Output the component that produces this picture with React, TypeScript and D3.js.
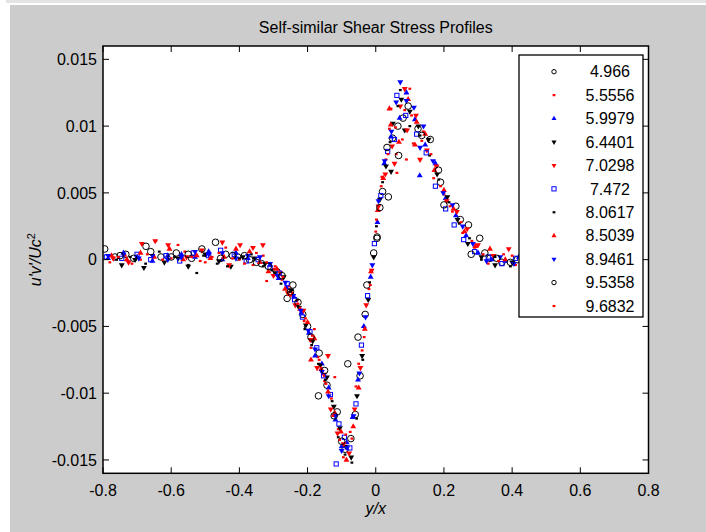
import React from 'react';
import * as d3 from 'd3';

const W = 706;
const H = 532;

const titleText = 'Self-similar Shear Stress Profiles';
const xTicks = [-0.8, -0.6, -0.4, -0.2, 0, 0.2, 0.4, 0.6, 0.8];
const xTickLabels = ['-0.8', '-0.6', '-0.4', '-0.2', '0', '0.2', '0.4', '0.6', '0.8'];
const yTicks = [0.015, 0.01, 0.005, 0, -0.005, -0.01, -0.015];
const yTickLabels = ['0.015', '0.01', '0.005', '0', '-0.005', '-0.01', '-0.015'];
const legendLabels = ['4.966', '5.5556', '5.9979', '6.4401', '7.0298', '7.472', '8.0617', '8.5039', '8.9461', '9.5358', '9.6832'];

type P = [number, number];

const s4966: P[] = [[-0.795,0.0008],[-0.765,0.0002],[-0.733,0.0004],[-0.674,0.0010],[-0.63,0.0002],[-0.585,0.0005],[-0.54,0.0001],[-0.47,0.0013],[-0.44,0.0004],[-0.405,0.0002],[-0.37,0.0000],[-0.335,-0.0003],[-0.29,-0.0009],[-0.26,-0.0029],[-0.243,-0.0019],[-0.214,-0.0041],[-0.2,-0.0050],[-0.166,-0.0070],[-0.143,-0.0094],[-0.113,-0.0114],[-0.09,-0.0142],[-0.06,-0.0116],[-0.046,-0.0087],[-0.031,-0.0041],[-0.006,0.0005],[0.0035,0.0016],[0.02,0.0051],[0.049,0.0091],[0.08,0.0106],[0.124,0.0098],[0.16,0.0090],[0.19,0.0058],[0.235,0.0040],[0.272,0.0026],[0.305,0.0016],[0.335,0.0001],[0.37,-0.0002],[0.415,0.0000]];
const s5556: P[] = [[-0.78,-0.0002],[-0.735,0.0003],[-0.69,0.0000],[-0.645,0.0014],[-0.6,0.0001],[-0.56,0.0006],[-0.515,-0.0001],[-0.48,0.0002],[-0.44,0.0009],[-0.4,0.0000],[-0.36,-0.0004],[-0.33,0.0003],[-0.32,-0.0016],[-0.3,-0.0007],[-0.275,-0.0015],[-0.255,-0.0020],[-0.232,-0.0031],[-0.21,-0.0046],[-0.19,-0.0066],[-0.18,-0.0052],[-0.17,-0.0073],[-0.15,-0.0091],[-0.13,-0.0104],[-0.12,-0.0088],[-0.11,-0.0127],[-0.095,-0.0148],[-0.075,-0.0129],[-0.058,-0.0095],[-0.04,-0.0068],[-0.02,-0.0022],[0.0,0.0021],[0.018,0.0062],[0.03,0.0075],[0.04,0.0098],[0.06,0.0079],[0.062,0.0065],[0.085,0.0112],[0.1,0.0128],[0.11,0.0087],[0.14,0.0096],[0.17,0.0061],[0.2,0.0049],[0.225,0.0036],[0.255,0.0020],[0.29,0.0009],[0.33,-0.0003],[0.375,0.0004],[0.41,-0.0004]];
const s5979: P[] = [[-0.785,0.0001],[-0.74,0.0005],[-0.7,0.0002],[-0.655,-0.0001],[-0.61,0.0003],[-0.57,0.0004],[-0.53,0.0002],[-0.49,0.0006],[-0.45,0.0000],[-0.41,0.0005],[-0.375,0.0001],[-0.34,-0.0002],[-0.31,-0.0004],[-0.285,-0.0014],[-0.262,-0.0021],[-0.24,-0.0028],[-0.218,-0.0040],[-0.196,-0.0055],[-0.178,-0.0072],[-0.158,-0.0078],[-0.138,-0.0096],[-0.118,-0.0120],[-0.1,-0.0140],[-0.085,-0.0137],[-0.068,-0.0118],[-0.052,-0.0090],[-0.035,-0.0050],[-0.015,-0.0013],[0.005,0.0028],[0.025,0.0072],[0.045,0.0092],[0.07,0.0106],[0.09,0.0125],[0.115,0.0105],[0.129,0.0063],[0.145,0.0086],[0.175,0.0072],[0.205,0.0046],[0.235,0.0033],[0.265,0.0018],[0.3,0.0005],[0.34,0.0000],[0.38,-0.0001],[0.42,0.0002]];
const s6440: P[] = [[-0.745,-0.0004],[-0.706,0.0000],[-0.68,-0.0006],[-0.62,-0.0002],[-0.58,0.0001],[-0.55,-0.0005],[-0.5,0.0004],[-0.46,-0.0001],[-0.425,-0.0005],[-0.39,0.0002],[-0.355,0.0001],[-0.325,-0.0003],[-0.295,-0.0010],[-0.27,-0.0013],[-0.248,-0.0023],[-0.225,-0.0036],[-0.205,-0.0049],[-0.185,-0.0061],[-0.163,-0.0079],[-0.143,-0.0088],[-0.123,-0.0110],[-0.105,-0.0126],[-0.088,-0.0140],[-0.072,-0.0148],[-0.055,-0.0102],[-0.04,-0.0072],[-0.022,-0.0030],[-0.006,0.0002],[0.012,0.0045],[0.03,0.0070],[0.045,0.0066],[0.05,0.0102],[0.075,0.0120],[0.085,0.0097],[0.1,0.0111],[0.125,0.0100],[0.155,0.0090],[0.18,0.0064],[0.21,0.0047],[0.24,0.0030],[0.27,0.0012],[0.31,0.0002],[0.35,-0.0004],[0.4,-0.0002]];
const s7030: P[] = [[-0.77,0.0001],[-0.725,-0.0002],[-0.686,0.0012],[-0.647,0.0014],[-0.609,0.0011],[-0.555,0.0002],[-0.51,0.0007],[-0.45,0.0013],[-0.43,-0.0004],[-0.398,0.0011],[-0.36,0.0009],[-0.331,0.0011],[-0.3,-0.0012],[-0.28,-0.0010],[-0.258,-0.0025],[-0.236,-0.0034],[-0.212,-0.0038],[-0.192,-0.0060],[-0.172,-0.0081],[-0.152,-0.0086],[-0.14,-0.0072],[-0.132,-0.0112],[-0.112,-0.0130],[-0.094,-0.0138],[-0.078,-0.0145],[-0.062,-0.0112],[-0.045,-0.0081],[-0.028,-0.0034],[-0.012,-0.0008],[0.008,0.0040],[0.028,0.0064],[0.048,0.0085],[0.055,0.0072],[0.072,0.0115],[0.085,0.0128],[0.092,0.0097],[0.118,0.0108],[0.13,0.0075],[0.15,0.0082],[0.178,0.0070],[0.208,0.0044],[0.238,0.0036],[0.268,0.0023],[0.3,0.0011],[0.345,0.0003],[0.39,0.0008]];
const s7472: P[] = [[-0.79,0.0002],[-0.745,0.0001],[-0.7,0.0004],[-0.66,0.0000],[-0.615,0.0003],[-0.575,-0.0001],[-0.535,0.0005],[-0.49,0.0003],[-0.455,0.0007],[-0.415,0.0004],[-0.38,-0.0001],[-0.345,0.0000],[-0.31,-0.0006],[-0.283,-0.0010],[-0.26,-0.0018],[-0.238,-0.0030],[-0.215,-0.0043],[-0.193,-0.0054],[-0.173,-0.0066],[-0.153,-0.0087],[-0.133,-0.0101],[-0.116,-0.0153],[-0.108,-0.0123],[-0.092,-0.0133],[-0.076,-0.0141],[-0.058,-0.0108],[-0.042,-0.0064],[-0.024,-0.0027],[-0.004,0.0012],[0.015,0.0048],[0.035,0.0081],[0.055,0.0090],[0.062,0.0123],[0.088,0.0108],[0.12,0.0094],[0.148,0.0080],[0.175,0.0055],[0.205,0.0038],[0.23,0.0026],[0.258,0.0015],[0.29,0.0006],[0.33,0.0002],[0.37,-0.0003],[0.41,0.0001]];
const s8062: P[] = [[-0.76,0.0000],[-0.72,0.0002],[-0.675,-0.0003],[-0.635,0.0006],[-0.59,0.0002],[-0.55,-0.0004],[-0.525,-0.0010],[-0.505,0.0003],[-0.465,-0.0003],[-0.435,-0.0005],[-0.4,0.0001],[-0.365,0.0004],[-0.33,-0.0005],[-0.305,-0.0008],[-0.278,-0.0018],[-0.252,-0.0024],[-0.23,-0.0030],[-0.208,-0.0052],[-0.188,-0.0064],[-0.168,-0.0078],[-0.148,-0.0090],[-0.128,-0.0106],[-0.11,-0.0133],[-0.09,-0.0146],[-0.07,-0.0152],[-0.056,-0.0119],[-0.038,-0.0075],[-0.018,-0.0017],[0.002,0.0025],[0.02,0.0058],[0.042,0.0088],[0.065,0.0115],[0.072,0.0127],[0.1,0.0100],[0.13,0.0093],[0.158,0.0078],[0.185,0.0060],[0.215,0.0043],[0.245,0.0027],[0.275,0.0016],[0.31,0.0000],[0.35,0.0002],[0.395,-0.0005]];
const s8504: P[] = [[-0.775,0.0003],[-0.73,0.0000],[-0.69,0.0005],[-0.65,0.0002],[-0.605,0.0008],[-0.565,0.0000],[-0.525,0.0003],[-0.485,0.0001],[-0.445,0.0002],[-0.41,0.0008],[-0.37,0.0006],[-0.34,-0.0002],[-0.315,-0.0009],[-0.29,-0.0007],[-0.266,-0.0022],[-0.244,-0.0026],[-0.222,-0.0037],[-0.2,-0.0047],[-0.19,-0.0075],[-0.18,-0.0059],[-0.16,-0.0082],[-0.14,-0.0099],[-0.12,-0.0115],[-0.102,-0.0129],[-0.086,-0.0150],[-0.066,-0.0125],[-0.05,-0.0096],[-0.032,-0.0052],[-0.014,-0.0009],[0.006,0.0037],[0.022,0.0061],[0.04,0.0113],[0.044,0.0101],[0.068,0.0088],[0.095,0.0120],[0.115,0.0086],[0.12,0.0103],[0.145,0.0094],[0.172,0.0067],[0.2,0.0052],[0.228,0.0038],[0.26,0.0021],[0.292,0.0010],[0.335,0.0008],[0.38,0.0000]];
const s8946: P[] = [[-0.785,0.0003],[-0.74,0.0004],[-0.695,0.0001],[-0.655,0.0003],[-0.61,0.0000],[-0.57,0.0002],[-0.53,0.0006],[-0.49,0.0004],[-0.45,0.0005],[-0.41,0.0001],[-0.375,0.0003],[-0.34,0.0002],[-0.31,-0.0003],[-0.288,-0.0012],[-0.265,-0.0017],[-0.242,-0.0027],[-0.22,-0.0038],[-0.198,-0.0053],[-0.178,-0.0067],[-0.158,-0.0084],[-0.138,-0.0102],[-0.118,-0.0117],[-0.1,-0.0143],[-0.084,-0.0141],[-0.065,-0.0117],[-0.048,-0.0085],[-0.03,-0.0043],[-0.01,-0.0004],[0.008,0.0044],[0.026,0.0074],[0.046,0.0096],[0.06,0.0118],[0.072,0.0133],[0.09,0.0119],[0.112,0.0114],[0.13,0.0084],[0.14,0.0100],[0.168,0.0074],[0.198,0.0050],[0.225,0.0041],[0.255,0.0025],[0.285,0.0012],[0.325,-0.0001],[0.365,0.0002],[0.405,-0.0003]];
const s9536: P[] = [[-0.75,0.0003],[-0.71,0.0001],[-0.66,0.0006],[-0.6,0.0002],[-0.55,0.0004],[-0.51,0.0008],[-0.455,0.0001],[-0.42,0.0003],[-0.385,0.0003],[-0.35,-0.0002],[-0.315,-0.0005],[-0.275,-0.0012],[-0.25,-0.0024],[-0.228,-0.0032],[-0.19,-0.0058],[-0.168,-0.0102],[-0.15,-0.0083],[-0.122,-0.0117],[-0.1,-0.0136],[-0.073,-0.0134],[-0.082,-0.0078],[-0.052,-0.0058],[-0.026,-0.0019],[0.004,0.0017],[0.012,0.0039],[0.033,0.0084],[0.037,0.0047],[0.065,0.0100],[0.067,0.0078],[0.095,0.0115],[0.135,0.0093],[0.184,0.0067],[0.2,0.0041],[0.248,0.0030],[0.28,0.0004],[0.32,0.0005],[0.355,0.0001],[0.395,-0.0002]];
const s9683: P[] = [[-0.755,0.0002],[-0.715,-0.0003],[-0.67,0.0004],[-0.625,0.0000],[-0.58,0.0011],[-0.54,0.0002],[-0.5,-0.0002],[-0.46,0.0005],[-0.42,0.0001],[-0.385,-0.0003],[-0.35,0.0005],[-0.32,-0.0002],[-0.295,-0.0005],[-0.272,-0.0013],[-0.25,-0.0027],[-0.228,-0.0033],[-0.206,-0.0044],[-0.186,-0.0057],[-0.166,-0.0075],[-0.146,-0.0093],[-0.126,-0.0117],[-0.106,-0.0135],[-0.088,-0.0131],[-0.07,-0.0134],[-0.05,-0.0078],[-0.034,-0.0058],[-0.016,-0.0019],[0.002,0.0030],[0.016,0.0055],[0.036,0.0079],[0.045,0.0113],[0.058,0.0099],[0.078,0.0090],[0.09,0.0075],[0.105,0.0108],[0.135,0.0089],[0.162,0.0079],[0.19,0.0055],[0.218,0.0040],[0.25,0.0028],[0.282,0.0014],[0.315,0.0004],[0.36,-0.0001],[0.4,0.0003]];

const seriesData: P[][] = [s4966, s5556, s5979, s6440, s7030, s7472, s8062, s8504, s8946, s9536, s9683];

type MType = 'circle' | 'dot' | 'triUp' | 'triDown' | 'square';
const markerTypes: MType[] = ['circle', 'dot', 'triUp', 'triDown', 'triDown', 'square', 'dot', 'triUp', 'triDown', 'circle', 'dot'];
const markerColors = ['#000000', '#ff0000', '#0000ff', '#000000', '#ff0000', '#0000ff', '#000000', '#ff0000', '#0000ff', '#000000', '#ff0000'];

const FONT = 'Liberation Sans, Arial, Helvetica, sans-serif';

const triPath = d3.symbol().type(d3.symbolTriangle).size(15)() as string;
const triPathSmall = d3.symbol().type(d3.symbolTriangle).size(11)() as string;

function Marker({ type, color, x, y, legend }: { type: MType; color: string; x: number; y: number; legend?: boolean }) {
  const tp = legend ? triPathSmall : triPath;
  switch (type) {
    case 'circle':
      return <circle cx={x} cy={y} r={legend ? 2.2 : 3.3} fill="none" stroke={color} strokeWidth={1} />;
    case 'dot':
      return <rect x={x - 1.4} y={y - 1.1} width={2.8} height={2.2} fill={color} />;
    case 'triUp':
      return <path d={tp} transform={`translate(${x},${y})`} fill={color} />;
    case 'triDown':
      return <path d={tp} transform={`translate(${x},${y}) rotate(180)`} fill={color} />;
    case 'square':
      return <rect x={x - 2.1} y={y - 2.1} width={4.2} height={4.2} fill="none" stroke={color} strokeWidth={1} />;
  }
  return null;
}

export default function App() {
  const left = 103, right = 648.5, top = 46, bottom = 473.3;
  const x = d3.scaleLinear().domain([-0.8, 0.8]).range([left, right]);
  const y = d3.scaleLinear().domain([-0.016, 0.016]).range([bottom, top]);
  const tl = 6;

  const legX = 519, legY = 55, legW = 124, legH = 262;
  const rowY = d3.scaleLinear().domain([0, legendLabels.length - 1]).range([legY + 16.7, legY + 251]);

  return (
    <svg width={W} height={H} style={{ position: 'absolute', left: 0, top: 0 }} fontFamily={FONT}>
      <rect x={0} y={0} width={W} height={H} fill="#ffffff" />
      <rect x={6} y={0} width={W - 6} height={3} fill="#e4e4e4" />
      <rect x={10} y={5} width={W - 10} height={H - 5} fill="#cccccc" />
      <text x={(left + right) / 2} y={33} textAnchor="middle" fontSize={16} fill="#000">{titleText}</text>
      <rect x={left} y={top} width={right - left} height={bottom - top} fill="#ffffff" />
      <defs>
        <clipPath id="plotclip">
          <rect x={left} y={top} width={right - left} height={bottom - top} />
        </clipPath>
      </defs>
      <g clipPath="url(#plotclip)">
        {seriesData.map((s, si) => (
          <g key={si}>
            {s.map((d, i) => (
              <Marker key={i} type={markerTypes[si]} color={markerColors[si]} x={x(d[0])} y={y(d[1])} />
            ))}
          </g>
        ))}
      </g>
      <g stroke="#000" strokeWidth={1}>
        {xTicks.map((t, i) => (
          <g key={'xt' + i}>
            <line x1={x(t)} x2={x(t)} y1={bottom} y2={bottom - tl} />
            <line x1={x(t)} x2={x(t)} y1={top} y2={top + tl} />
          </g>
        ))}
        {yTicks.map((t, i) => (
          <g key={'yt' + i}>
            <line x1={left} x2={left + tl} y1={y(t)} y2={y(t)} />
            <line x1={right} x2={right - tl} y1={y(t)} y2={y(t)} />
          </g>
        ))}
      </g>
      <rect x={left} y={top} width={right - left} height={bottom - top} fill="none" stroke="#000" strokeWidth={1.5} />
      {xTicks.map((t, i) => (
        <text key={'xl' + i} x={x(t)} y={496} textAnchor="middle" fontSize={16} fill="#000">{xTickLabels[i]}</text>
      ))}
      {yTicks.map((t, i) => (
        <text key={'yl' + i} x={97} y={y(t) + 5.7} textAnchor="end" fontSize={16} fill="#000">{yTickLabels[i]}</text>
      ))}
      <text x={(left + right) / 2} y={514} textAnchor="middle" fontSize={16} fontStyle="italic" fill="#000">y/x</text>
      <text transform={`translate(41,${(top + bottom) / 2}) rotate(-90)`} textAnchor="middle" fontSize={16} fill="#000">
        <tspan fontStyle="italic">u'v'/Uc</tspan>
        <tspan fontSize={11} dy={-6}>2</tspan>
      </text>
      <rect x={legX} y={legY} width={legW} height={legH} fill="#ffffff" stroke="#000" strokeWidth={1.3} />
      {legendLabels.map((lab, i) => (
        <g key={'lg' + i}>
          <Marker type={markerTypes[i]} color={markerColors[i]} x={554} y={rowY(i)} legend />
          <text x={610} y={rowY(i) + 5.7} textAnchor="middle" fontSize={16} fill="#000">{lab}</text>
        </g>
      ))}
    </svg>
  );
}
